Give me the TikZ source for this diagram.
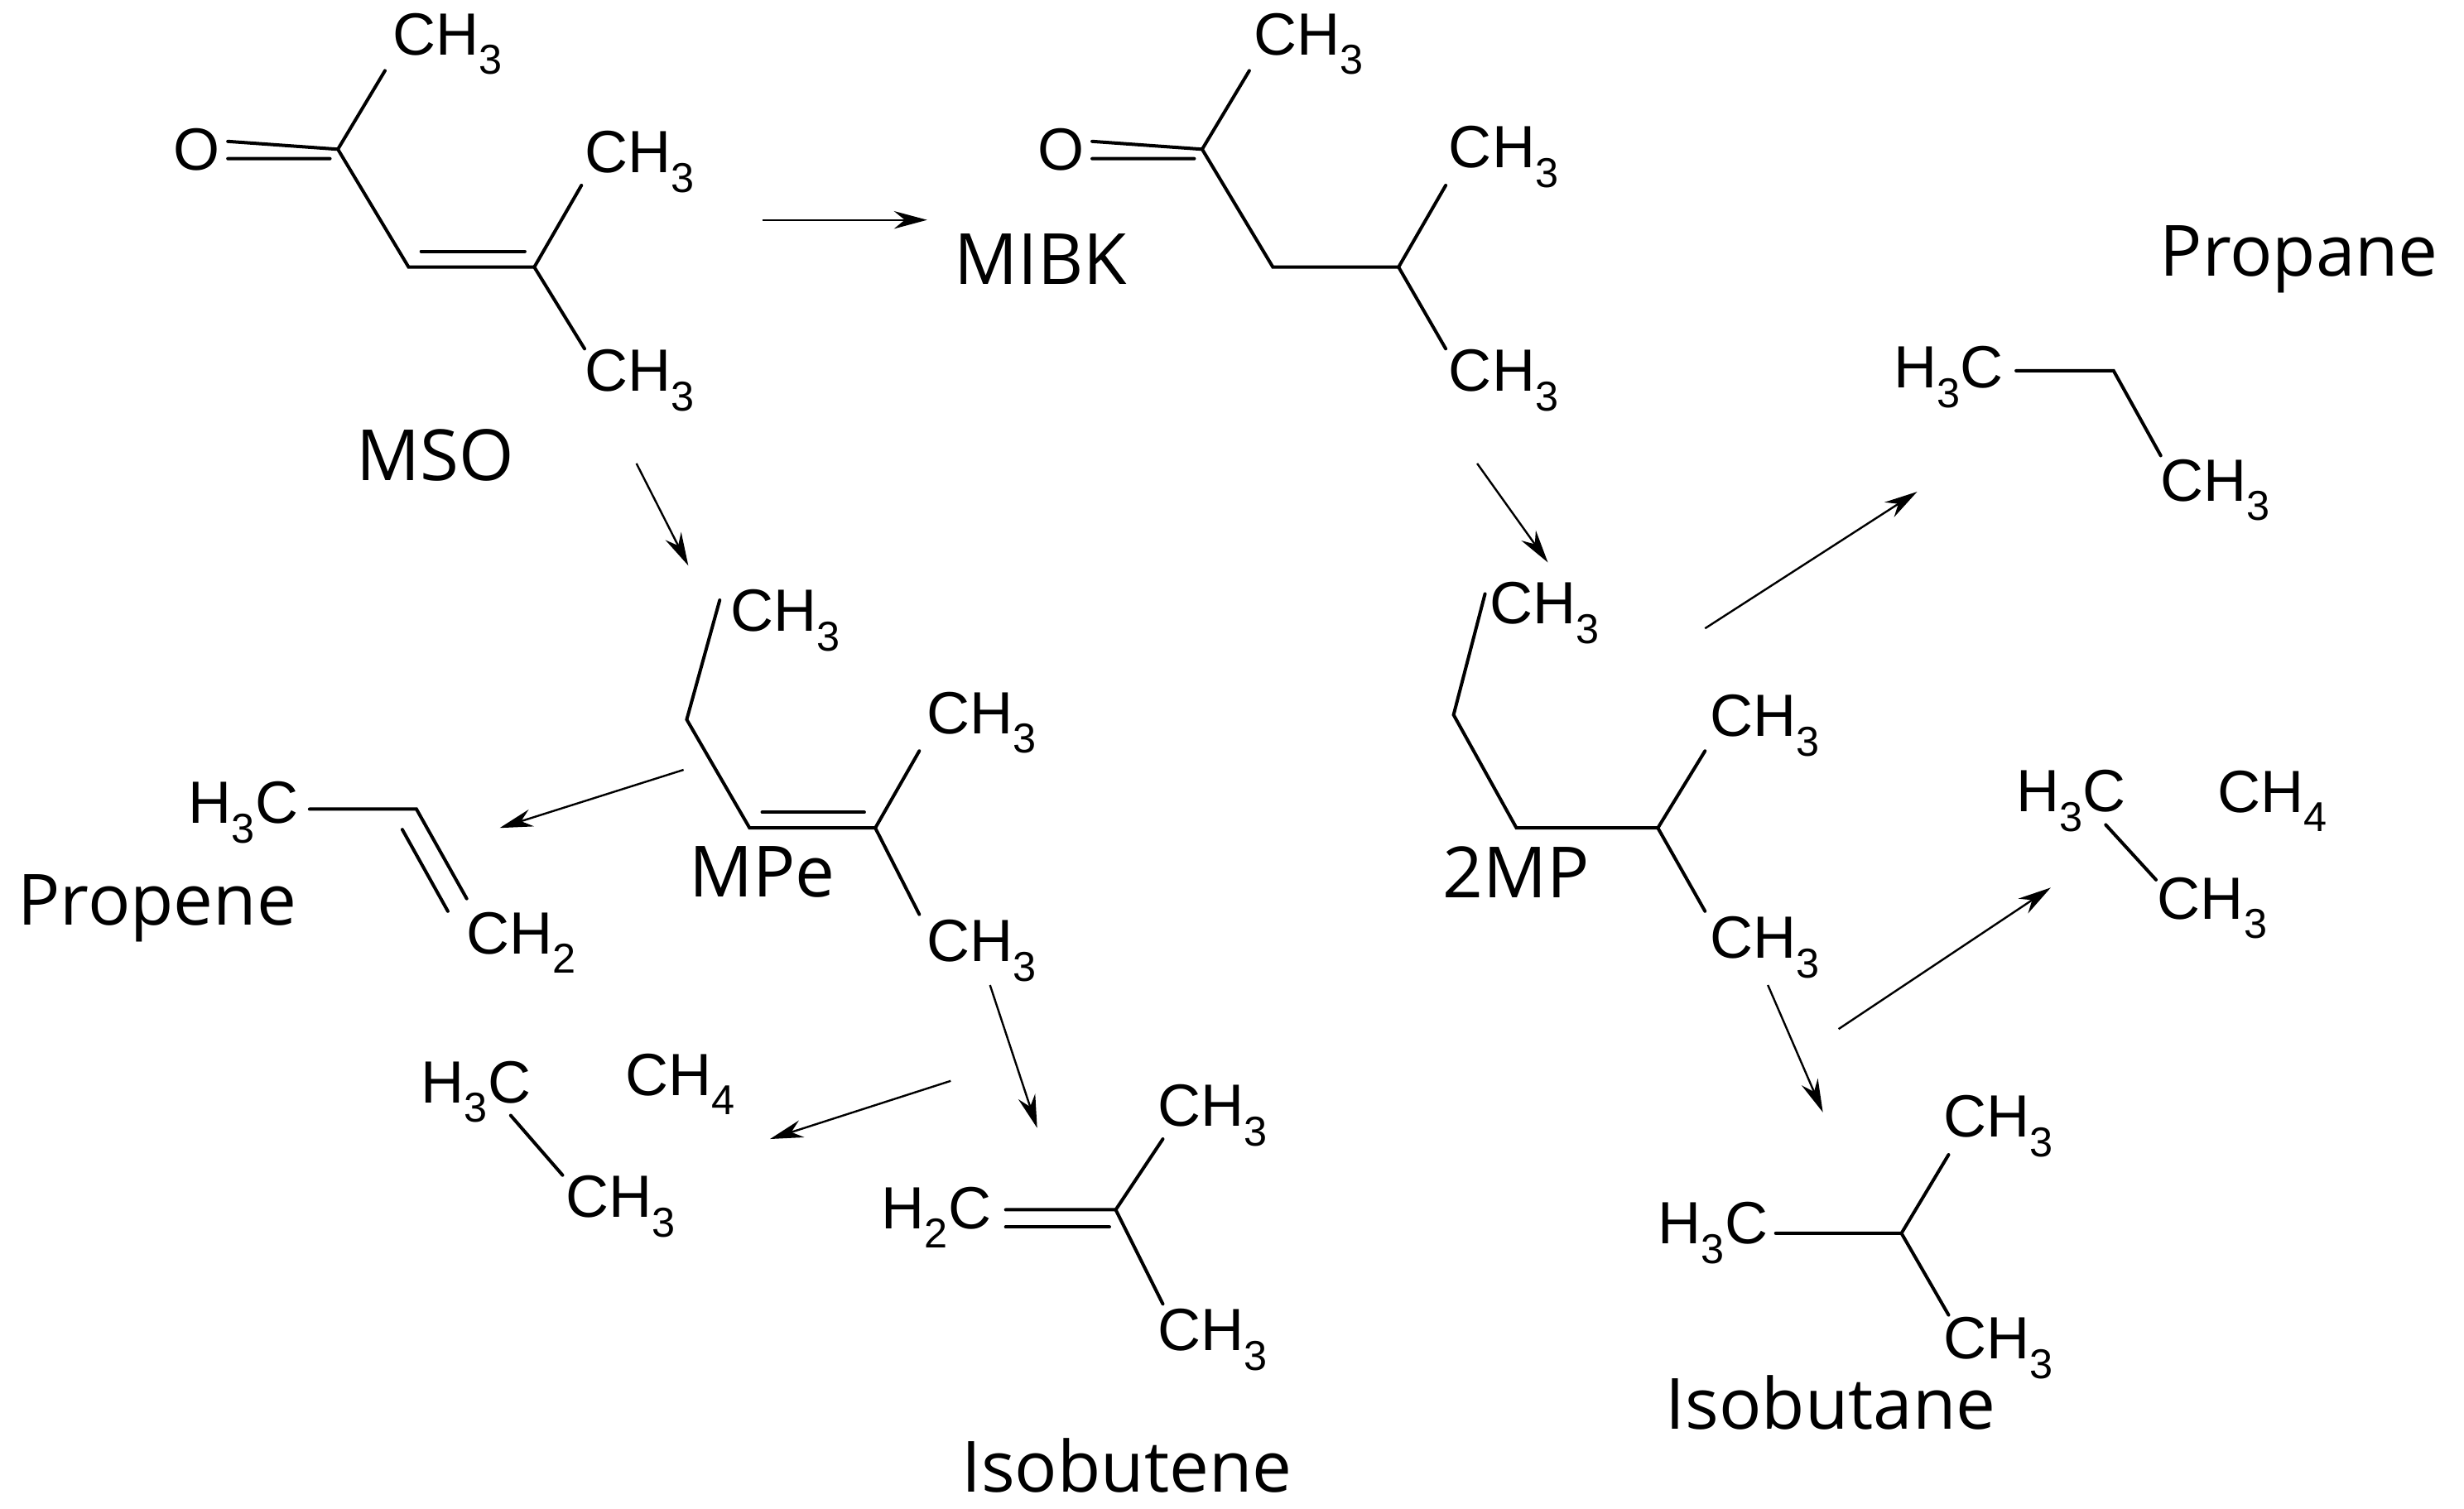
\documentclass[tikz,border=0pt]{standalone}
\usepackage{fontspec}
\setmainfont{Liberation Sans}
\newfontfamily\lblfont{Open Sans}
\usetikzlibrary{arrows.meta}
\begin{document}
\begin{tikzpicture}[x=0.05cm,y=-0.05cm,
  chem/.style={inner sep=0pt,font=\fontsize{54}{58}\selectfont},
  lbl/.style={inner sep=0pt,font=\lblfont\fontsize{64}{68}\selectfont},
  bond/.style={line width=3pt,line cap=round},
  rx/.style={line width=1.8pt,-{Stealth[length=30pt,width=16pt]}}]
\useasboundingbox (0,0) rectangle (1568,960);
% ---------- MSO
\node[chem] (o1) at (125,95) {O};
\node[chem] (m1a) at (285,28) {CH\textsubscript{3}};
\node[chem] (m1b) at (407,103) {CH\textsubscript{3}};
\node[chem] (m1c) at (407,242) {CH\textsubscript{3}};
\node[lbl] (mso) at (277,290) {MSO};
\coordinate (a1) at (215,95); \coordinate (a2) at (260,170); \coordinate (a3) at (340,170);
\draw[bond] (145,90) -- (a1) (145,101) -- (210,101);
\draw[bond] (a1) -- (245,45);
\draw[bond] (a1) -- (a2) -- (a3);
\draw[bond] (268,160) -- (334,160);
\draw[bond] (a3) -- (370,118);
\draw[bond] (a3) -- (372,222);
% ---------- MIBK
\node[lbl] (mibk) at (662,165) {MIBK};
\coordinate (mibkin) at (590,140);
\node[chem] (o2) at (675,95) {O};
\node[chem] (m2a) at (833,28) {CH\textsubscript{3}};
\node[chem] (m2b) at (957,100) {CH\textsubscript{3}};
\node[chem] (m2c) at (957,242) {CH\textsubscript{3}};
\coordinate (b1) at (765,95); \coordinate (b2) at (810,170); \coordinate (b3) at (890,170);
\draw[bond] (695,90) -- (b1) (695,101) -- (760,101);
\draw[bond] (b1) -- (795,45);
\draw[bond] (b1) -- (b2) -- (b3) -- (920,118);
\draw[bond] (b3) -- (920,222);
\draw[rx] (485,140) -- (mibkin);
% ---------- 2MP
\node[chem] (m3a) at (983,390) {CH\textsubscript{3}};
\node[chem] (m3b) at (1123,462) {CH\textsubscript{3}};
\node[chem] (m3c) at (1123,603) {CH\textsubscript{3}};
\node[lbl] (mp2) at (965,555) {2MP};
\draw[bond] (945,378) -- (925,455) -- (965,527) -- (1055,527) -- (1085,478);
\draw[bond] (1055,527) -- (1085,580);
\draw[rx] (940,295) -- (985,358);
% ---------- Propane
\node[lbl] (propane) at (1463,165) {Propane};
\node[chem] (pp1) at (1240,240) {H\textsubscript{3}C};
\node[chem] (pp2) at (1410,312) {CH\textsubscript{3}};
\draw[bond] (1283,236) -- (1345,236) -- (1375,290);
\draw[rx] (1085,400) -- (1220,313);
% ---------- ethane+methane right
\node[chem] (e1) at (1318,510) {H\textsubscript{3}C};
\node[chem] (e2) at (1408,578) {CH\textsubscript{3}};
\node[chem] (e3) at (1446,510) {CH\textsubscript{4}};
\draw[bond] (1340,525) -- (1372,560);
\draw[rx] (1170,655) -- (1305,565);
% ---------- Isobutane
\node[chem] (ib1) at (1272,717) {CH\textsubscript{3}};
\node[chem] (ib2) at (1090,785) {H\textsubscript{3}C};
\node[chem] (ib3) at (1272,858) {CH\textsubscript{3}};
\node[lbl] (isobutane) at (1165,893) {Isobutane};
\draw[bond] (1130,785) -- (1210,785) -- (1240,735);
\draw[bond] (1210,785) -- (1240,837);
\draw[rx] (1125,627) -- (1160,708);
% ---------- MPe
\node[chem] (mp1) at (500,395) {CH\textsubscript{3}};
\node[chem] (mp2) at (625,460) {CH\textsubscript{3}};
\node[chem] (mp3) at (625,605) {CH\textsubscript{3}};
\node[lbl] (mpe) at (485,555) {MPe};
\draw[bond] (458,382) -- (437,458) -- (477,527) -- (557,527) -- (585,478);
\draw[bond] (485,517) -- (550,517);
\draw[bond] (557,527) -- (585,582);
\draw[rx] (405,295) -- (438,360);
% ---------- Propene
\node[chem] (pe1) at (155,517) {H\textsubscript{3}C};
\node[chem] (pe2) at (332,600) {CH\textsubscript{2}};
\node[lbl] (propene) at (100,578) {Propene};
\draw[bond] (197,515) -- (265,515) -- (297,572);
\draw[bond] (256,528) -- (285,580);
\draw[rx] (435,490) -- (318,527);
% ---------- ethane+methane left
\node[chem] (f1) at (303,695) {H\textsubscript{3}C};
\node[chem] (f2) at (395,768) {CH\textsubscript{3}};
\node[chem] (f3) at (433,690) {CH\textsubscript{4}};
\draw[bond] (325,710) -- (358,748);
\draw[rx] (605,688) -- (490,725);
% ---------- Isobutene
\node[chem] (ie1) at (772,710) {CH\textsubscript{3}};
\node[chem] (ie2) at (596,775) {H\textsubscript{2}C};
\node[chem] (ie3) at (772,853) {CH\textsubscript{3}};
\node[lbl] (isobutene) at (717,933) {Isobutene};
\draw[bond] (640,770) -- (710,770) -- (740,725);
\draw[bond] (640,781) -- (706,781);
\draw[bond] (710,770) -- (740,830);
\draw[rx] (630,627) -- (660,718);
\end{tikzpicture}
\end{document}
